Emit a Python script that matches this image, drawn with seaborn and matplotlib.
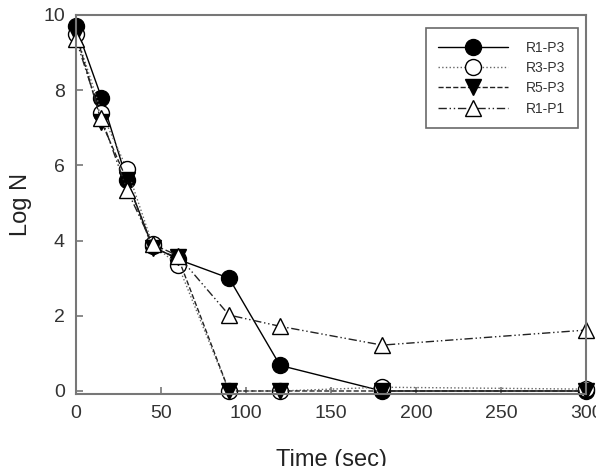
import seaborn as sns
import matplotlib.pyplot as plt

# Survival data
time = [0, 15, 30, 45, 60, 90, 120, 180, 300]
r1_p3 = [9.7, 7.8, 5.6, 3.85, 3.5, 3.0, 0.68, 0.0, 0.0]
r3_p3 = [9.5, 7.4, 5.9, 3.9, 3.35, 0.0, 0.0, 0.1, 0.05]
r5_p3 = [9.5, 7.15, 5.6, 3.8, 3.55, 0.0, 0.0, 0.0, 0.0]
r1_p1 = [9.35, 7.25, 5.35, 3.9, 3.6, 2.02, 1.72, 1.22, 1.62]
labels = ['R1-P3', 'R3-P3', 'R5-P3', 'R1-P1']

sns.set_style('ticks')
plt.rcParams['font.family'] = ['Liberation Sans', 'DejaVu Sans']

fig = plt.figure(figsize=(5.96, 4.66), dpi=100)
ax = fig.add_axes([0.1275, 0.1545, 0.856, 0.8135])

styles = [
    dict(marker='o', linestyle='-', markerfacecolor='black'),
    dict(marker='o', linestyle=':', markerfacecolor='white'),
    dict(marker='v', linestyle='--', markerfacecolor='black'),
    dict(marker='^', linestyle=(0, (6, 2, 1, 2, 1, 2)), markerfacecolor='white'),
]
series = [r1_p3, r3_p3, r5_p3, r1_p1]
line_colors = ['black', '#666666', '#222222', '#222222']

for vals, lab, st, lc in zip(series, labels, styles, line_colors):
    sns.lineplot(x=time, y=vals, ax=ax, color=lc, label=lab, linewidth=1.0,
                 markersize=11.5, markeredgecolor='black', markeredgewidth=1.0,
                 sort=False, clip_on=False, **st)

ax.set_xlim(0, 300)
ax.set_ylim(-0.08, 10)
ax.set_xticks([0, 50, 100, 150, 200, 250, 300])
ax.set_yticks([0, 2, 4, 6, 8, 10])
ax.tick_params(direction='in', length=5, width=1.2, color='#777777',
               labelsize=14, pad=8, labelcolor='#333333')
for s in ax.spines.values():
    s.set_color('#777777')
    s.set_linewidth(1.5)
    s.set_visible(True)

ax.set_xlabel('Time (sec)', fontsize=17, labelpad=19, color='#222222')
ax.set_ylabel('Log N', fontsize=17, labelpad=8, color='#222222')

leg = ax.legend(loc='upper right', fontsize=10, frameon=True, fancybox=False,
                edgecolor='#444444', handlelength=5.0, labelspacing=0.45,
                borderpad=0.9, handletextpad=1.3, bbox_to_anchor=(0.997, 0.983))
leg.get_frame().set_linewidth(1.2)
for t in leg.get_texts():
    t.set_color('#333333')

plt.savefig('out.png', dpi=100)
